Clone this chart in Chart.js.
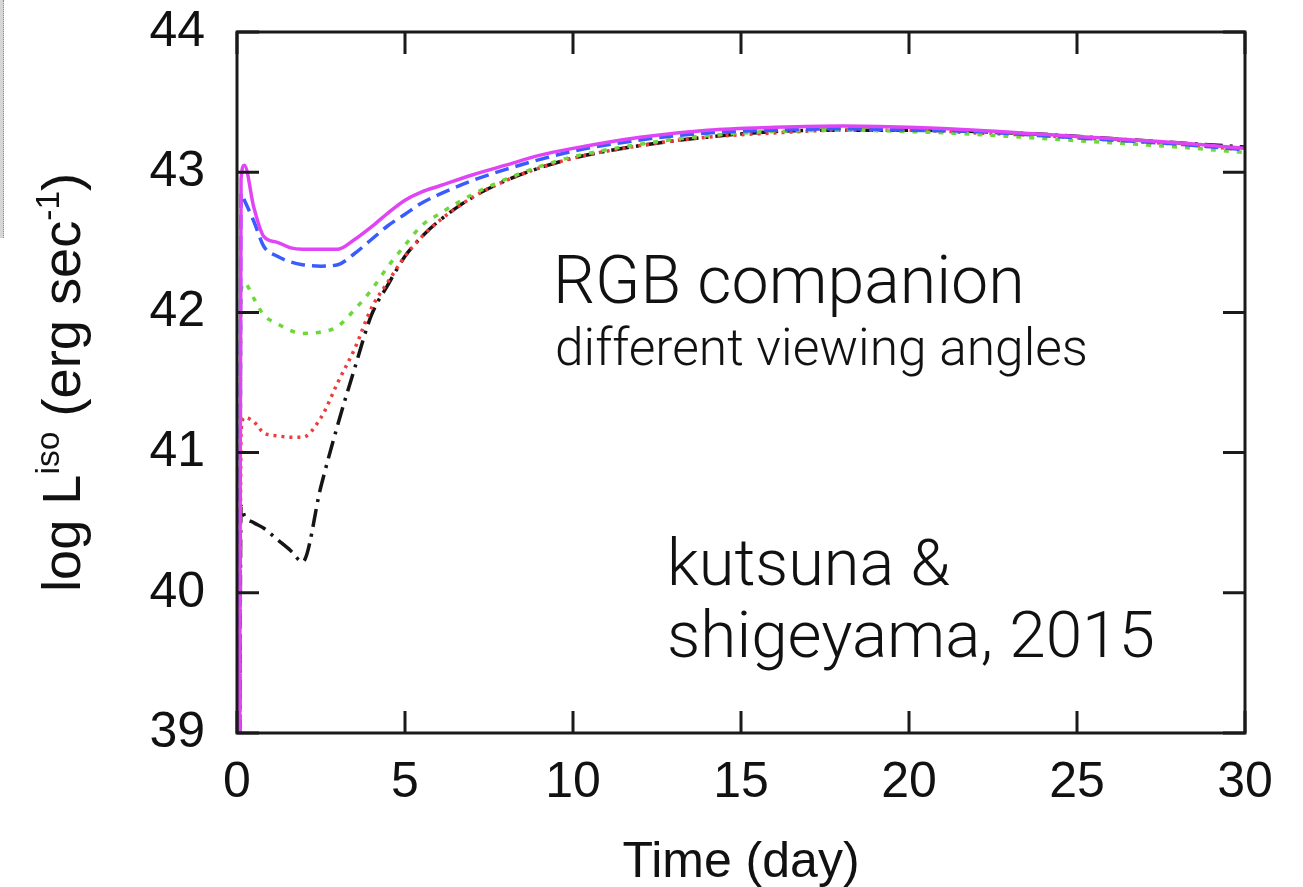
<!DOCTYPE html>
<html>
<head>
<meta charset="utf-8">
<script src="https://cdn.jsdelivr.net/npm/chart.js@4.4.1/dist/chart.umd.min.js"></script>
<style>
  html, body { margin: 0; padding: 0; background: #fff; overflow: hidden; }
  #wrap { position: relative; width: 1303px; height: 887px; }
  #strip { position: absolute; left: 0; top: 0; width: 3px; height: 238px; background: #d6d6d6; border-right: 1px dotted #8a8a8a; }
</style>
</head>
<body>
<div id="wrap">
  <canvas id="lc" width="1303" height="887"></canvas>
  <div id="strip"></div>
</div>
<script>
// time in days
const days = [0.08, 0.12, 0.22, 0.5, 0.8, 1.2, 1.6, 1.95, 2.5, 3.0, 3.5, 4.0, 4.5, 5, 5.5, 6, 7, 8, 9, 10, 12, 14, 16, 18, 20, 22, 24, 26, 28, 30];

// log L_iso for the five viewing angles
const lumSolid = [39, 42.95, 43.05, 42.75, 42.54, 42.50, 42.46, 42.45, 42.45, 42.45, 42.52, 42.61, 42.71, 42.80, 42.86, 42.90, 42.98, 43.05, 43.12, 43.17, 43.25, 43.30, 43.32, 43.33, 43.32, 43.30, 43.27, 43.24, 43.21, 43.17];
const lumDashed = [39, 42.85, 42.80, 42.65, 42.47, 42.40, 42.36, 42.34, 42.33, 42.34, 42.42, 42.52, 42.62, 42.70, 42.78, 42.84, 42.94, 43.02, 43.09, 43.15, 43.23, 43.28, 43.30, 43.31, 43.30, 43.29, 43.26, 43.23, 43.20, 43.16];
const lumGreen = [39, 42.15, 42.21, 42.10, 41.98, 41.92, 41.87, 41.85, 41.86, 41.90, 42.02, 42.16, 42.33, 42.48, 42.62, 42.70, 42.84, 42.95, 43.04, 43.11, 43.20, 43.26, 43.29, 43.30, 43.29, 43.27, 43.24, 43.21, 43.18, 43.14];
const lumRed = [39, 41.15, 41.25, 41.22, 41.14, 41.12, 41.11, 41.11, 41.25, 41.50, 41.74, 42.03, 42.22, 42.40, 42.54, 42.65, 42.82, 42.94, 43.03, 43.10, 43.19, 43.25, 43.28, 43.30, 43.30, 43.28, 43.26, 43.23, 43.20, 43.16];
const lumBlack = [39, 40.62, 40.55, 40.50, 40.46, 40.38, 40.30, 40.22, 40.76, 41.20, 41.60, 41.98, 42.20, 42.40, 42.54, 42.65, 42.82, 42.94, 43.03, 43.10, 43.19, 43.25, 43.29, 43.30, 43.30, 43.29, 43.27, 43.24, 43.21, 43.18];

const xTicks = [0, 5, 10, 15, 20, 25, 30];
const yTicks = [39, 40, 41, 42, 43, 44];

const toPoints = (ys) => ys.map((y, i) => ({ x: days[i], y: y }));

const tickFont = 'Liberation Sans, Arial, Helvetica, sans-serif';
const noteFont = 'Roboto, "Open Sans", Lato, sans-serif';

// text fitted to a given width, drawn at a pixel position
function fitText(ctx, text, x, y, width, weight, family) {
  ctx.font = weight + ' 100px ' + family;
  const w = ctx.measureText(text).width;
  const size = 100 * width / w;
  ctx.font = weight + ' ' + size.toFixed(1) + 'px ' + family;
  ctx.fillText(text, x, y);
}

const framePlugin = {
  id: 'frame',
  afterDraw(chart) {
    const ctx = chart.ctx,
      a = chart.chartArea,
      xs = chart.scales.x,
      ys = chart.scales.y,
      len = 22;
    ctx.save();
    ctx.strokeStyle = '#1a1a1a';
    ctx.lineWidth = 3;
    ctx.strokeRect(a.left, a.top, a.right - a.left, a.bottom - a.top);
    ctx.beginPath();
    xTicks.forEach(v => {
      const px = xs.getPixelForValue(v);
      ctx.moveTo(px, a.bottom); ctx.lineTo(px, a.bottom - len);
      ctx.moveTo(px, a.top); ctx.lineTo(px, a.top + len);
    });
    yTicks.forEach(v => {
      const py = ys.getPixelForValue(v);
      ctx.moveTo(a.left, py); ctx.lineTo(a.left + len, py);
      ctx.moveTo(a.right, py); ctx.lineTo(a.right - len, py);
    });
    ctx.stroke();

    // axis titles
    ctx.fillStyle = '#111';
    ctx.textAlign = 'center';
    ctx.textBaseline = 'alphabetic';
    ctx.font = '50px ' + tickFont;
    ctx.fillText('Time (day)', (a.left + a.right) / 2, 877);

    // y title with superscripts, rotated
    const parts = [
      { t: 'log L', s: 1, up: 0 },
      { t: 'iso', s: 0.62, up: 0.62 },
      { t: ' (erg sec', s: 1, up: 0 },
      { t: '-1', s: 0.62, up: 0.62 },
      { t: ')', s: 1, up: 0 }
    ];
    let base = 48, total = 0;
    parts.forEach(p => {
      ctx.font = (base * p.s) + 'px ' + tickFont;
      total += ctx.measureText(p.t).width;
    });
    base = base * 419 / total;
    ctx.translate(80, 592);
    ctx.rotate(-Math.PI / 2);
    ctx.textAlign = 'left';
    let cx = 0;
    parts.forEach(p => {
      ctx.font = (base * p.s).toFixed(1) + 'px ' + tickFont;
      ctx.fillText(p.t, cx, -p.up * base * 0.62);
      cx += ctx.measureText(p.t).width;
    });
    ctx.restore();

    // notes inside the plot
    ctx.save();
    ctx.fillStyle = '#111';
    ctx.textAlign = 'left';
    ctx.textBaseline = 'alphabetic';
    fitText(ctx, 'RGB companion', 553, 303, 472, 300, noteFont);
    fitText(ctx, 'different viewing angles', 555, 365, 533, 300, noteFont);
    fitText(ctx, 'kutsuna &', 667, 585, 283, 300, noteFont);
    fitText(ctx, 'shigeyama, 2015', 667, 657, 488, 300, noteFont);
    ctx.restore();
  }
};

const lineBase = { fill: false, pointRadius: 0, borderWidth: 3.5, cubicInterpolationMode: 'monotone', borderJoinStyle: 'round' };

new Chart(document.getElementById('lc'), {
  type: 'line',
  data: {
    datasets: [
      Object.assign({ label: 'solid', data: toPoints(lumSolid), borderColor: '#e044f4' }, lineBase),
      Object.assign({ label: 'dashed', data: toPoints(lumDashed), borderColor: '#3a5cff', borderDash: [14, 7] }, lineBase),
      Object.assign({ label: 'short dashed', data: toPoints(lumGreen), borderColor: '#6cd83a', borderDash: [5, 8] }, lineBase),
      Object.assign({ label: 'dotted', data: toPoints(lumRed), borderColor: '#ee3b3b', borderDash: [3, 5] }, lineBase),
      Object.assign({ label: 'dash-dot', data: toPoints(lumBlack), borderColor: '#151515', borderDash: [18, 7, 3, 7] }, lineBase)
    ]
  },
  options: {
    responsive: false,
    animation: false,
    devicePixelRatio: 1,
    layout: { padding: { top: 32, right: 58, left: 0, bottom: 0 } },
    plugins: { legend: { display: false }, tooltip: { enabled: false } },
    scales: {
      x: {
        type: 'linear', min: 0, max: 30,
        grid: { display: false, drawTicks: false },
        border: { display: false },
        afterBuildTicks(s) { s.ticks = xTicks.map(v => ({ value: v })); },
        afterFit(s) { s.height = 154; s.paddingLeft = 0; s.paddingRight = 0; },
        ticks: { color: '#111', padding: 20, maxRotation: 0, font: { family: tickFont, size: 50 } }
      },
      y: {
        type: 'linear', min: 39, max: 44,
        grid: { display: false, drawTicks: false },
        border: { display: false },
        afterBuildTicks(s) { s.ticks = yTicks.map(v => ({ value: v })); },
        afterFit(s) { s.width = 237; s.paddingTop = 0; s.paddingBottom = 0; },
        ticks: { color: '#111', padding: 32, font: { family: tickFont, size: 50 } }
      }
    }
  },
  plugins: [framePlugin]
});
</script>
</body>
</html>
